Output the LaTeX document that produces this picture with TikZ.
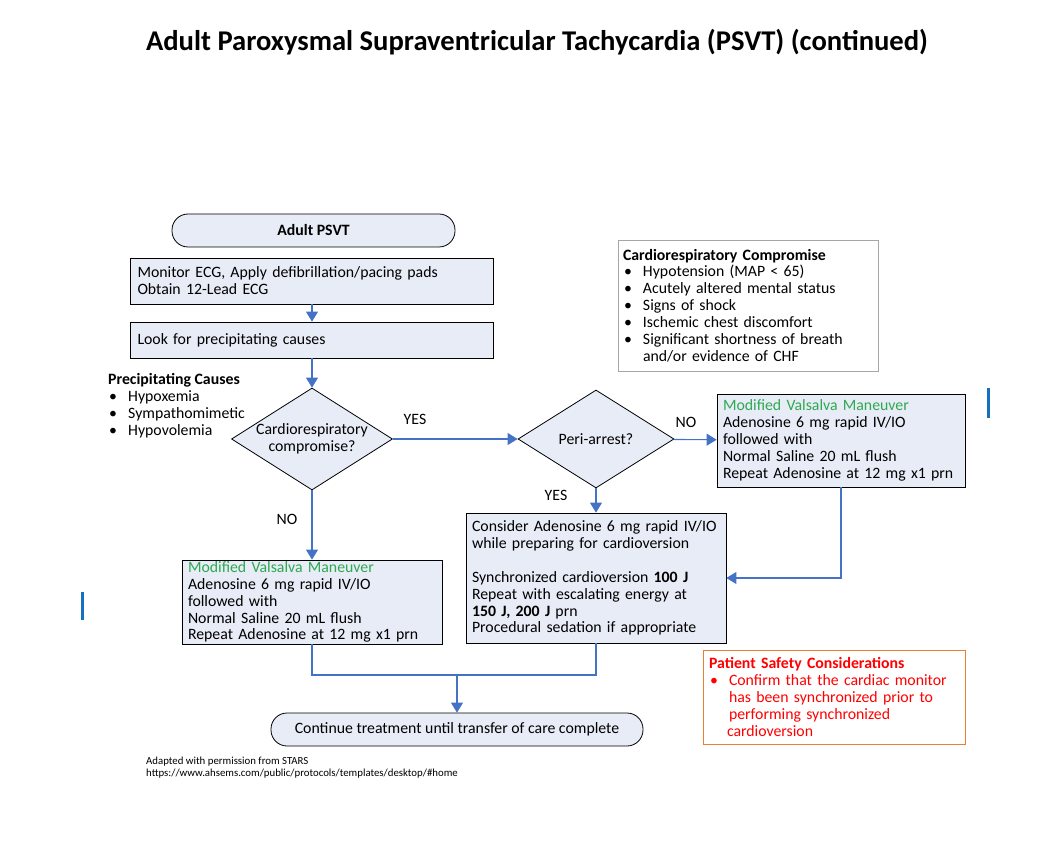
\documentclass[tikz,border=0pt]{standalone}
\usepackage{fontspec}
\setmainfont{Carlito}
\usepackage{xcolor}
\definecolor{boxfill}{HTML}{E8ECF7}
\definecolor{flowblue}{HTML}{4472C4}
\definecolor{valgreen}{HTML}{2DA94F}
\definecolor{safered}{HTML}{FF0000}
\definecolor{safeorange}{HTML}{ED7D31}
\definecolor{notegray}{HTML}{A6A6A6}
\definecolor{barblue}{HTML}{1570C0}
\usetikzlibrary{arrows.meta,positioning,shapes.geometric}
\newcommand{\bulletline}[1]{\makebox[20pt][l]{\hspace{1pt}\textbullet}#1}

\begin{document}
\begin{tikzpicture}[x=1pt, y=-1pt, >={Triangle[length=10pt,width=12pt]},
  font=\fontsize{15.8}{16.9}\selectfont,
  box/.style={draw, fill=boxfill, line width=0.8pt, inner xsep=6pt, inner ysep=0pt, align=left},
  term/.style={draw, fill=boxfill, line width=0.8pt, rounded corners=16pt, minimum height=33pt, inner sep=0pt},
  decision/.style={draw, fill=boxfill, diamond, line width=0.8pt, inner sep=0pt, aspect=1.58, align=center},
  flow/.style={->, flowblue, line width=1.1pt},
  flowline/.style={flowblue, line width=1.1pt},
  lbl/.style={inner sep=0pt}]

  \useasboundingbox (0,0) rectangle (1052,866);

  \node (title) at (537,42) {\fontsize{28.6}{32}\selectfont\bfseries Adult Paroxysmal Supraventricular Tachycardia (PSVT) (continued)};

  \node[term, minimum width=283pt, font=\fontsize{15.8}{16.9}\selectfont\bfseries] (start) at (313.5,230.5) {Adult PSVT};
  \node[box, inner xsep=7pt, text width=349pt, minimum height=46pt] (monitor) at (312,281) {Monitor ECG, Apply defibrillation/pacing pads\\Obtain 12-Lead ECG};
  \node[box, inner xsep=7pt, text width=349pt, minimum height=36pt] (look) at (312,340) {Look for precipitating causes};
  \node[decision, minimum width=161pt, minimum height=102pt] (compromise) at (312,439) {Cardiorespiratory\\compromise?};
  \node[decision, minimum width=156pt, minimum height=98pt] (periarrest) at (596,439) {Peri-arrest?};
  \node[box, text width=236pt, minimum height=93pt] (valsalvaR) at (841,440.5) {\textcolor{valgreen}{Modified Valsalva Maneuver}\\Adenosine 6 mg rapid IV/IO\\followed with\\Normal Saline 20 mL flush\\Repeat Adenosine at 12 mg x1 prn};
  \node[box, text width=248pt, minimum height=130pt] (cardiovert) at (596,578) {Consider Adenosine 6 mg rapid IV/IO\\while preparing for cardioversion\\[16.9pt]Synchronized cardioversion \textbf{100 J}\\Repeat with escalating energy at\\\textbf{150 J, 200 J} prn\\Procedural sedation if appropriate};
  \node[box, text width=248pt, minimum height=84pt] (valsalvaL) at (312,602) {\textcolor{valgreen}{Modified Valsalva Maneuver}\\Adenosine 6 mg rapid IV/IO\\followed with\\Normal Saline 20 mL flush\\Repeat Adenosine at 12 mg x1 prn};
  \node[term, minimum width=372pt] (continue) at (457,729.5) {Continue treatment until transfer of care complete};

  \node[draw=notegray, line width=0.8pt, inner xsep=5pt, inner ysep=0pt, text width=250pt, minimum height=131pt, align=left] (cardionote) at (748,305.5)
    {\textbf{Cardiorespiratory Compromise}\\\bulletline{Hypotension (MAP < 65)}\\\bulletline{Acutely altered mental status}\\\bulletline{Signs of shock}\\\bulletline{Ischemic chest discomfort}\\\bulletline{Significant shortness of breath}\\\hspace*{20pt}and/or evidence of CHF};
  \node[draw=safeorange, line width=0.8pt, inner xsep=6pt, inner ysep=0pt, text width=250pt, minimum height=94pt, align=left, text=safered] (safety) at (834,697)
    {\textbf{Patient Safety Considerations}\\\bulletline{Confirm that the cardiac monitor}\\\hspace*{20pt}has been synchronized prior to\\\hspace*{20pt}performing synchronized\\\hspace*{18pt}cardioversion};
  \node[anchor=north west, inner sep=0pt, align=left] (causes) at (108,373)
    {\textbf{Precipitating Causes}\\\bulletline{Hypoxemia}\\\bulletline{Sympathomimetic}\\\bulletline{Hypovolemia}};

  \node[lbl] (yes1) at (415,419) {YES};
  \node[lbl] (no1) at (686,422) {NO};
  \node[lbl] (yes2) at (556,495) {YES};
  \node[lbl] (no2) at (287,519) {NO};

  \node[anchor=north west, inner sep=0pt, align=left, font=\fontsize{10.8}{12}\selectfont] (credit) at (146,757)
    {Adapted with permission from STARS\\https://www.ahsems.com/public/protocols/templates/desktop/\#home};

  \draw[flow] (monitor) -- (look);
  \draw[flow] (look) -- (compromise);
  \draw[flow] (compromise) -- (periarrest);
  \draw[flow] (periarrest) -- (valsalvaR);
  \draw[flow] (periarrest) -- (cardiovert);
  \draw[flow] (compromise) -- (valsalvaL);
  \draw[flow] (valsalvaR.south) |- (cardiovert.east);
  \coordinate (merge) at (457,675);
  \draw[flowline] (valsalvaL.south) |- (merge) -| (cardiovert.south);
  \draw[flow] (merge) -- (continue);

  \draw[barblue, line width=3pt] (82,592) -- (82,620);
  \draw[barblue, line width=3pt] (988,388) -- (988,418);

\end{tikzpicture}
\end{document}
